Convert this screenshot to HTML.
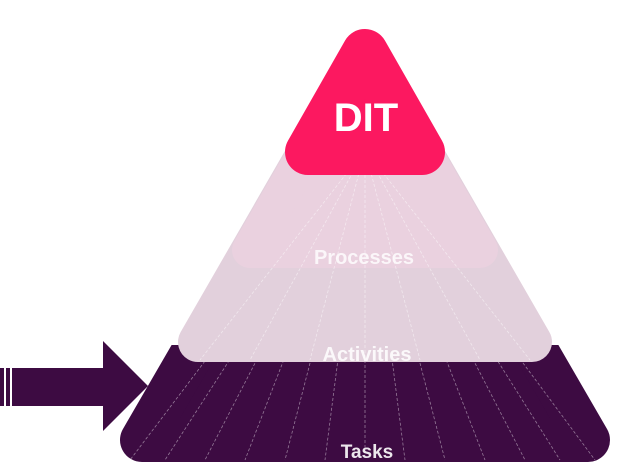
<!DOCTYPE html>
<html><head><style>
html,body{margin:0;padding:0;background:#fff;width:621px;height:468px;overflow:hidden}
svg{display:block}
text{font-family:"Liberation Sans",sans-serif;font-weight:bold}
</style></head><body>
<svg width="621" height="468" viewBox="0 0 621 468">
<defs><clipPath id="c"><rect x="0" y="345" width="621" height="130"/></clipPath></defs>
<!-- arrow -->
<rect x="0" y="368" width="108" height="38" fill="#3d0b42"/>
<polygon points="103,341 148,386 103,431" fill="#3d0b42"/>
<rect x="4" y="366" width="2" height="42" fill="#fff"/>
<rect x="10" y="366" width="2" height="42" fill="#fff"/>
<!-- tasks -->
<g clip-path="url(#c)">
<polygon points="365,55 142,440 588,440" fill="#3d0b42" stroke="#3d0b42" stroke-width="44" stroke-linejoin="round"/>
<g stroke="#ffffff" stroke-opacity="0.45" stroke-width="0.8" stroke-dasharray="3,2">
<line x1="365" y1="150" x2="130" y2="460"/><line x1="365" y1="150" x2="165" y2="460"/>
<line x1="365" y1="150" x2="205" y2="460"/><line x1="365" y1="150" x2="245" y2="460"/>
<line x1="365" y1="150" x2="285" y2="460"/><line x1="365" y1="150" x2="325" y2="460"/>
<line x1="365" y1="150" x2="365" y2="460"/><line x1="365" y1="150" x2="405" y2="460"/>
<line x1="365" y1="150" x2="445" y2="460"/><line x1="365" y1="150" x2="485" y2="460"/>
<line x1="365" y1="150" x2="525" y2="460"/><line x1="365" y1="150" x2="560" y2="460"/>
<line x1="365" y1="150" x2="595" y2="460"/>
</g>
</g>
<!-- activities -->
<polygon points="365,52 198,342 532,342" fill="#e2d0dc" stroke="#e2d0dc" stroke-width="40" stroke-linejoin="round"/>
<!-- processes -->
<polygon points="365,50 250,250 480,250" fill="#ead1df" stroke="#ead1df" stroke-width="36" stroke-linejoin="round"/>
<g stroke="#ffffff" stroke-opacity="0.5" stroke-width="0.8" stroke-dasharray="3,2">
<line x1="365" y1="150" x2="200" y2="360"/><line x1="365" y1="150" x2="250" y2="360"/>
<line x1="365" y1="150" x2="310" y2="360"/><line x1="365" y1="150" x2="365" y2="360"/>
<line x1="365" y1="150" x2="420" y2="360"/><line x1="365" y1="150" x2="480" y2="360"/>
<line x1="365" y1="150" x2="530" y2="360"/>
</g>
<!-- DIT -->
<polygon points="365,52 308,152 422,152" fill="#fc1860" stroke="#fc1860" stroke-width="46" stroke-linejoin="round"/>
<text x="366" y="131" font-size="40" fill="#fff" text-anchor="middle">DIT</text>
<text x="364" y="264" font-size="20" fill="#fff" fill-opacity="0.8" text-anchor="middle">Processes</text>
<text x="367" y="361" font-size="20" fill="#fff" fill-opacity="0.85" text-anchor="middle">Activities</text>
<text x="367" y="458" font-size="19" fill="#fff" fill-opacity="0.9" text-anchor="middle">Tasks</text>
</svg>
</body></html>
